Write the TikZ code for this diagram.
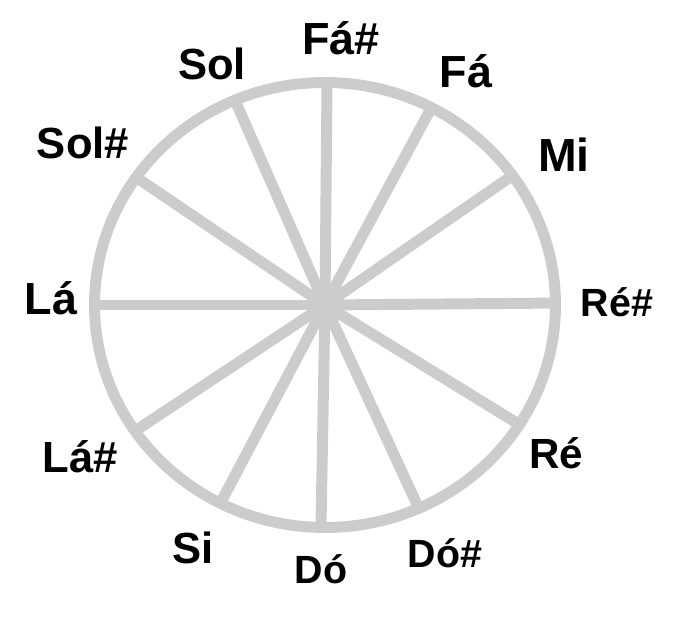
\documentclass[tikz,border=0pt]{standalone}
\usepackage{fontspec}
\setmainfont{Liberation Sans}
\usepackage{tikz}
\usetikzlibrary{positioning}

\begin{document}
\begin{tikzpicture}[x=0.025cm, y=0.025cm,
  wheel/.style={draw=black!20, line width=7.8pt, line cap=round},
  note/.style={anchor=base, inner sep=0pt, font=\bfseries\fontsize{#1}{#1}\selectfont},
  note/.default=30,
]
\useasboundingbox (-325,-312) rectangle (352,305);

\coordinate (c) at (0,0);
\draw[wheel] (c) ellipse [x radius=230.5, y radius=222.5];

% spokes, angles
\foreach \t [count=\i] in {89.5,62.5,35.6,0.5,-32.5,-66,-91,-117,-145.5,180,145,113}
  \coordinate (rim-\i) at (\t:230.5 and 222.5);
\foreach \i in {1,...,12}
  \draw[wheel] (c) -- (rim-\i);

\node[note=32] (fas)  at (16,250)    {Fá\#};
\node[note=32] (fa)   at (141,217)   {Fá};
\node[note=33] (mi)   at (239,133)   {Mi};
\node[note=28] (res)  at (292,-12)   {Ré\#};
\node[note=30] (re)   at (231,-163)  {Ré};
\node[note=28] (dos)  at (120,-262)  {Dó\#};
\node[note=28] (do)   at (-4,-278)   {Dó};
\node[note=31] (si)   at (-132,-258) {Si};
\node[note=31] (las)  at (-245,-168) {Lá\#};
\node[note=32] (la)   at (-274,-10)  {Lá};
\node[note=31] (sols) at (-242,146)  {Sol\#};
\node[note=31] (sol)  at (-113,225)  {Sol};
\end{tikzpicture}
\end{document}
